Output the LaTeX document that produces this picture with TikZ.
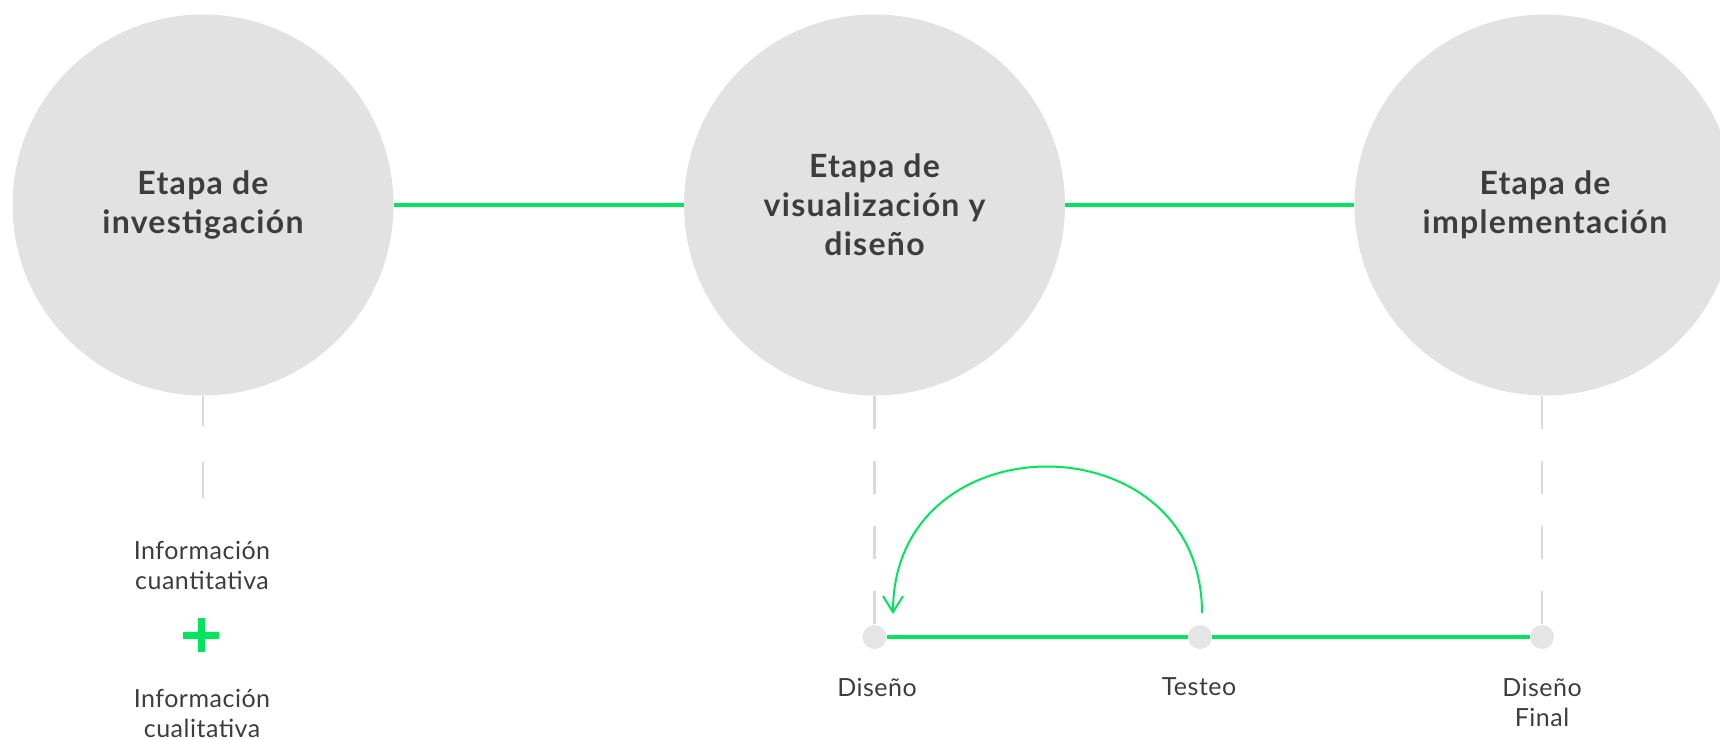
\documentclass[tikz,border=0pt]{standalone}
\usepackage{fontspec}
\setmainfont{Lato}
\newfontfamily\stagefont[LetterSpace=4]{Lato}
\newfontfamily\labelfont[LetterSpace=2]{Lato}
\usetikzlibrary{arrows.meta}
\definecolor{circfill}{HTML}{E2E2E2}
\definecolor{dotfill}{HTML}{E5E5E5}
\definecolor{brandgreen}{HTML}{00E55C}
\definecolor{txt}{HTML}{3D3D3D}
\definecolor{dashgray}{HTML}{DADADA}
\tikzset{
  stage/.style={circle, fill=circfill, minimum size=381pt, inner sep=0pt, align=center,
    text=txt, font=\stagefont\fontsize{32}{39}\selectfont\bfseries},
  stepdot/.style={circle, fill=dotfill, minimum size=24pt, inner sep=0pt},
  lbl/.style={align=center, text=txt, font=\labelfont\fontsize{25}{30}\selectfont, inner sep=0pt},
  link/.style={draw=brandgreen, line width=3.5pt},
  guide/.style={draw=dashgray, line width=2.5pt, dash pattern=on 33pt off 32pt},
  loop/.style={draw=brandgreen, line width=2pt, -{Straight Barb[length=16pt, width=20pt, line width=2pt]}}
}
\begin{document}
\begin{tikzpicture}[x=1pt, y=-1pt]
\useasboundingbox (0,0) rectangle (1720,739);
% stage circles
\node[stage] (c1) at (203,205) {Etapa de\\investigación};
\node[stage] (c2) at (874.5,205) {Etapa de\\visualización y\\diseño};
\node[stage] (c3) at (1545,205) {Etapa de\\implementación};
\draw[link] (c1) -- (c2);
\draw[link] (c2) -- (c3);
% dots
\node[stepdot] (d1) at (874.5,637) {};
\node[stepdot] (d2) at (1200,637) {};
\node[stepdot] (d3) at (1542,637) {};
\draw[link] (d1) -- (d2);
\draw[link] (d2) -- (d3);
% dashed guides
\coordinate (q1) at (203,499);
\draw[guide, dash pattern=on 36pt off 36pt, dash phase=6pt] (c1.south) -- (q1);
\draw[guide] (c2.south) -- (d1.north);
\draw[guide] ([xshift=-3pt]c3.south) -- (d3.north);
% loop arrow
\coordinate (arcS) at (1202,613);
\coordinate (arcE) at (893,614);
\draw[loop] (arcS) .. controls (1202,418) and (893,418) .. (arcE);
% labels
\node[lbl] (l1) at (877,687) {Diseño};
\node[lbl] (l2) at (1199,687) {Testeo};
\node[lbl] (l3) at (1542,702) {Diseño\\Final};
\node[lbl] (i1) at (202,565) {Información\\cuantitativa};
\node[lbl] (i2) at (202,713) {Información\\cualitativa};
% plus
\coordinate (plus) at (201,635);
\draw[brandgreen, line width=7pt] ([xshift=-18pt]plus) -- ([xshift=18pt]plus);
\draw[brandgreen, line width=7pt] ([yshift=-17pt]plus) -- ([yshift=17pt]plus);
\end{tikzpicture}
\end{document}
